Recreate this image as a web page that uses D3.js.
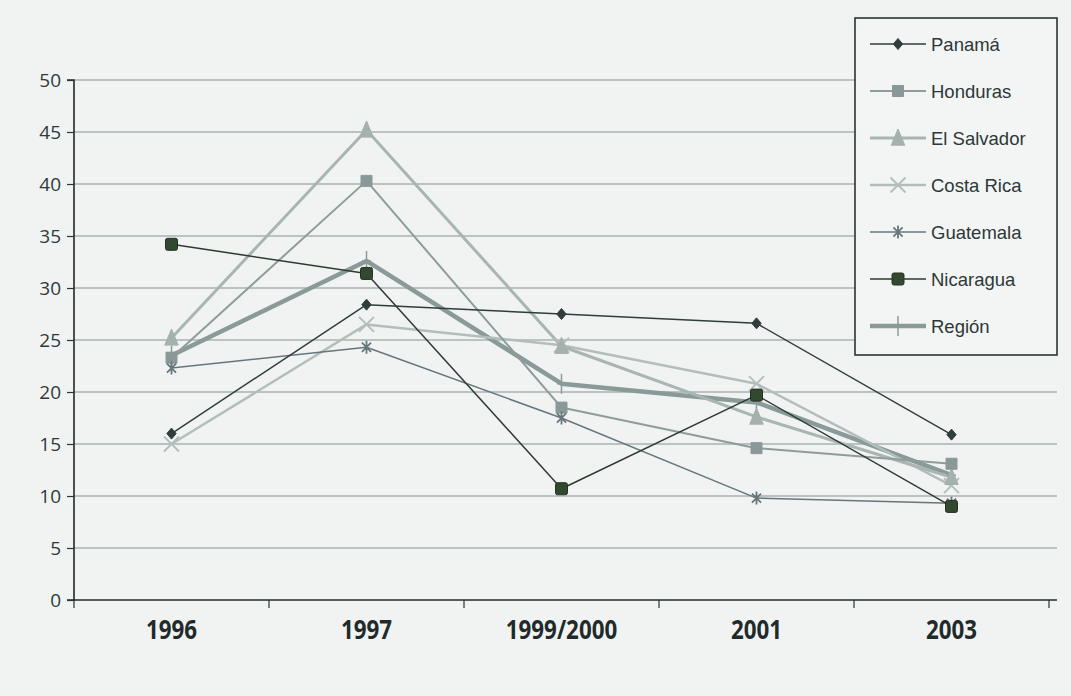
<!DOCTYPE html>
<html><head><meta charset="utf-8">
<script src="https://cdn.jsdelivr.net/npm/d3@7"></script>
<style>
html,body{margin:0;padding:0;background:#f1f3f2;}
svg{display:block;}
</style></head>
<body>
<svg id="chart" width="1071" height="696"></svg>
<script>
const categories = ["1996", "1997", "1999/2000", "2001", "2003"];
const yTicks = [0, 5, 10, 15, 20, 25, 30, 35, 40, 45, 50];
const panama     = [16.0, 28.4, 27.5, 26.6, 15.9];
const honduras   = [23.3, 40.3, 18.5, 14.6, 13.1];
const elSalvador = [25.2, 45.2, 24.4, 17.6, 11.8];
const costaRica  = [15.0, 26.5, 24.5, 20.8, 11.0];
const guatemala  = [22.3, 24.3, 17.5, 9.8, 9.3];
const nicaragua  = [34.2, 31.4, 10.7, 19.7, 9.0];
const region     = [23.5, 32.6, 20.8, 19.0, 12.0];
const seriesNames = ["Panamá", "Honduras", "El Salvador", "Costa Rica", "Guatemala", "Nicaragua", "Región"];

const styles = {
  "Panamá":      {color:"#2f3d3c", width:1.5, marker:"diamond", mfill:"#2f3d3c", size:11},
  "Honduras":    {color:"#8e9c9b", width:2,   marker:"square",  mfill:"#8a9897", size:11},
  "El Salvador": {color:"#a9b5b2", width:3,   marker:"triangle",mfill:"#a5b1ad", size:18},
  "Costa Rica":  {color:"#b3bebc", width:2.5, marker:"x",       mfill:"#b3bebc", size:15},
  "Guatemala":   {color:"#66767c", width:1.5, marker:"star",    mfill:"#66767c", size:13},
  "Nicaragua":   {color:"#2d3b30", width:1.5, marker:"square2", mfill:"#33492f", size:12},
  "Región":      {color:"#8a9a98", width:4.5, marker:"plus",    mfill:"#8a9a98", size:20}
};
const dataBy = {"Panamá":panama, "Honduras":honduras, "El Salvador":elSalvador, "Costa Rica":costaRica, "Guatemala":guatemala, "Nicaragua":nicaragua, "Región":region};

const svg = d3.select("#chart");
const M = {left:74, right:1049, top:80, bottom:600};
const x = d3.scaleBand().domain(categories).range([M.left, M.right]);
const y = d3.scaleLinear().domain([0, 50]).range([M.bottom, M.top]);

// gridlines
svg.append("g").selectAll("line").data(yTicks.filter(d=>d>0)).join("line")
  .attr("x1", M.left).attr("x2", 1057)
  .attr("y1", d=>y(d)).attr("y2", d=>y(d))
  .attr("stroke", "#86948f").attr("stroke-width", 1.2);

// y axis
const yAxis = d3.axisLeft(y).tickValues(yTicks).tickSize(7).tickPadding(6);
const gy = svg.append("g").attr("transform", `translate(${M.left},0)`).call(yAxis);
gy.select(".domain").attr("stroke", "#1f2a2a").attr("stroke-width", 1.6).attr("d", `M-7,${M.bottom}H0V${M.top}H-7`);
gy.selectAll(".tick line").attr("stroke", "#2a3535").attr("stroke-width", 1.2);
gy.selectAll(".tick text").attr("font-family", "'Open Sans', sans-serif").attr("font-size", 19).attr("fill", "#2d3a3a");

// x axis
const xAxis = d3.axisBottom(x).tickSize(0).tickPadding(20);
const gx = svg.append("g").attr("transform", `translate(0,${M.bottom})`).call(xAxis);
gx.select(".domain").attr("stroke", "#1f2a2a").attr("stroke-width", 1.6).attr("d", `M${M.left},0H1057`);
gx.selectAll(".tick text").attr("font-family", "'Open Sans', sans-serif")
  .attr("font-weight", "bold").attr("font-size", 26).attr("fill", "#1f2b2a").attr("dy", "0.75em")
  .attr("transform", "scale(0.86,1)");
const bounds = categories.map(c=>x(c)).concat([M.right]);
svg.append("g").selectAll("line").data(bounds).join("line")
  .attr("x1", d=>d).attr("x2", d=>d).attr("y1", M.bottom).attr("y2", M.bottom+8)
  .attr("stroke", "#2a3535").attr("stroke-width", 1.2);

const cx = c => x(c) + x.bandwidth()/2;
const line = d3.line().x((d,i)=>cx(categories[i])).y(d=>y(d));

function markerPath(type, s) {
  const h = s/2;
  switch(type) {
    case "diamond": return `M0,${-h}L${h*0.85},0L0,${h}L${-h*0.85},0Z`;
    case "square": return `M${-h},${-h}H${h}V${h}H${-h}Z`;
    case "square2": return `M${-h+2},${-h}H${h-2}Q${h},${-h} ${h},${-h+2}V${h-2}Q${h},${h} ${h-2},${h}H${-h+2}Q${-h},${h} ${-h},${h-2}V${-h+2}Q${-h},${-h} ${-h+2},${-h}Z`;
    case "triangle": return `M0,${-h}L${h*0.75},${h*0.8}L${-h*0.75},${h*0.8}Z`;
    case "x": return `M${-h},${-h}L${h},${h}M${h},${-h}L${-h},${h}`;
    case "star": return `M${-h*0.7},${-h*0.7}L${h*0.7},${h*0.7}M${h*0.7},${-h*0.7}L${-h*0.7},${h*0.7}M0,${-h}V${h}`;
    case "plus": return `M0,${-h}V${h}M${-h*0.45},0H${h*0.45}`;
  }
}
function addMarker(g, name, px, py) {
  const st = styles[name];
  const open = ["x","star","plus"].includes(st.marker);
  g.append("path").attr("d", markerPath(st.marker, st.size))
    .attr("transform", `translate(${px},${py})`)
    .attr("fill", open ? "none" : st.mfill)
    .attr("stroke", open ? st.mfill : (st.marker==="square2" ? "#243024" : st.mfill))
    .attr("stroke-width", open ? (st.marker==="plus" ? 1.5 : 1.8) : 1);
}

const plot = svg.append("g");
const order = ["Región", "Costa Rica", "El Salvador", "Honduras", "Guatemala", "Panamá", "Nicaragua"];
order.forEach(name => {
  const st = styles[name];
  plot.append("path").datum(dataBy[name]).attr("d", line)
    .attr("fill", "none").attr("stroke", st.color).attr("stroke-width", st.width).attr("stroke-linejoin", "round");
});
order.forEach(name => {
  dataBy[name].forEach((v, i) => addMarker(plot, name, cx(categories[i]), y(v)));
});

// legend
const lg = svg.append("g");
lg.append("rect").attr("x", 855).attr("y", 18).attr("width", 202).attr("height", 337)
  .attr("fill", "#f3f5f4").attr("stroke", "#2a3535").attr("stroke-width", 1.6);
seriesNames.forEach((name, i) => {
  const yy = 44 + i*47;
  const st = styles[name];
  lg.append("line").attr("x1", 870).attr("x2", 926).attr("y1", yy).attr("y2", yy)
    .attr("stroke", st.color).attr("stroke-width", st.width);
  addMarker(lg, name, 898, yy);
  lg.append("text").attr("x", 931).attr("y", yy).attr("dy", "0.36em")
    .attr("font-family", "'Liberation Sans', Arial, sans-serif").attr("font-size", 18.5).attr("fill", "#2d3838")
    .text(name);
});
</script>
</body></html>
